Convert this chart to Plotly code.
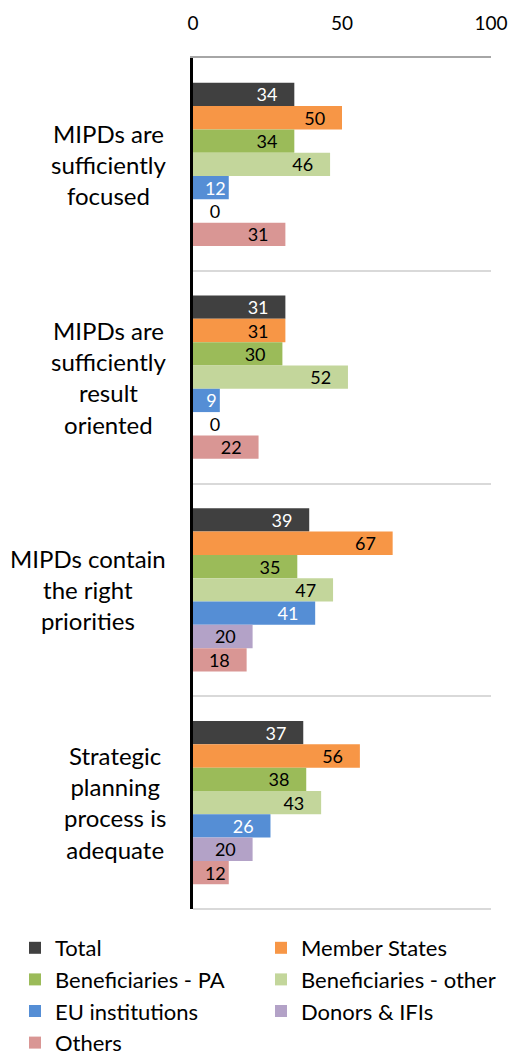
import plotly.graph_objects as go

categories = [
    "MIPDs are<br>sufficiently<br>focused",
    "MIPDs are<br>sufficiently<br>result<br>oriented",
    "MIPDs contain<br>the right<br>priorities",
    "Strategic<br>planning<br>process is<br>adequate",
]
series_names = ["Total", "Member States", "Beneficiaries - PA", "Beneficiaries - other",
                "EU institutions", "Donors & IFIs", "Others"]
total = [34, 31, 39, 37]
member_states = [50, 31, 67, 56]
benef_pa = [34, 30, 35, 38]
benef_other = [46, 52, 47, 43]
eu_inst = [12, 9, 41, 26]
donors = [0, 0, 20, 20]
others = [31, 22, 18, 12]
x_ticks = [0, 50, 100]

series_values = [total, member_states, benef_pa, benef_other, eu_inst, donors, others]
colors = ["#404040", "#F79646", "#9BBB59", "#C3D69B", "#558ED5", "#B3A2C7", "#D99694"]
text_colors = ["white", "black", "black", "black", "white", "black", "black"]

NB = "\u00a0"
FONT = "Lato"

fig = go.Figure()
for name, vals, col, tcol in zip(series_names, series_values, colors, text_colors):
    texts, pos = [], []
    for v in vals:
        if v == 0:
            texts.append(NB * 3 + str(v)); pos.append("outside")
        elif v < 15:
            texts.append(str(v)); pos.append("inside")
        else:
            texts.append(str(v) + NB * 3); pos.append("inside")
    fig.add_trace(go.Bar(
        y=categories, x=vals, name=name, orientation="h",
        marker=dict(color=col, line=dict(width=0)),
        text=texts, textposition=pos, insidetextanchor="end", textangle=0,
        constraintext="none", cliponaxis=False,
        textfont=dict(color=tcol, size=18, family=FONT),
        outsidetextfont=dict(color="black", size=18, family=FONT),
    ))

for c in categories:
    fig.add_annotation(x=-0.084, xref="paper", y=c, yref="y", text=c,
                       showarrow=False, xanchor="right", align="center",
                       font=dict(size=24, color="black", family=FONT))

# bottom boundary line of the plot area
fig.add_shape(type="line", xref="paper", yref="paper", x0=0, x1=1, y0=0, y1=0,
              line=dict(color="#D9D9D9", width=2), layer="below")

fig.update_layout(
    width=509, height=1058,
    margin=dict(l=193, r=18, t=58, b=149, autoexpand=False),
    paper_bgcolor="white", plot_bgcolor="white",
    barmode="group", bargap=0.233, bargroupgap=0,
    font=dict(family=FONT, color="black"),
    xaxis=dict(range=[0, 100], tickvals=x_ticks, side="top", showgrid=False,
               zeroline=False, showline=True, linecolor="#A6A6A6", linewidth=2,
               ticks="", ticklabelstandoff=18, tickfont=dict(size=19, color="black")),
    yaxis=dict(type="category", range=[3.5, -0.5], tickson="boundaries",
               showticklabels=False, showgrid=True, gridcolor="#D9D9D9", gridwidth=2,
               ticks="", showline=True, linecolor="black", linewidth=3, zeroline=False),
    legend=dict(orientation="h", xref="paper", yref="paper",
                x=(15 - 193) / 298, y=-(927 - 909) / 851, xanchor="left", yanchor="top",
                entrywidth=201, entrywidthmode="pixels",
                font=dict(size=22, color="black", family=FONT), traceorder="normal"),
    showlegend=True,
)

fig.write_html("out.html", config={"displayModeBar": False},
               post_script="document.body.style.margin='0';")
